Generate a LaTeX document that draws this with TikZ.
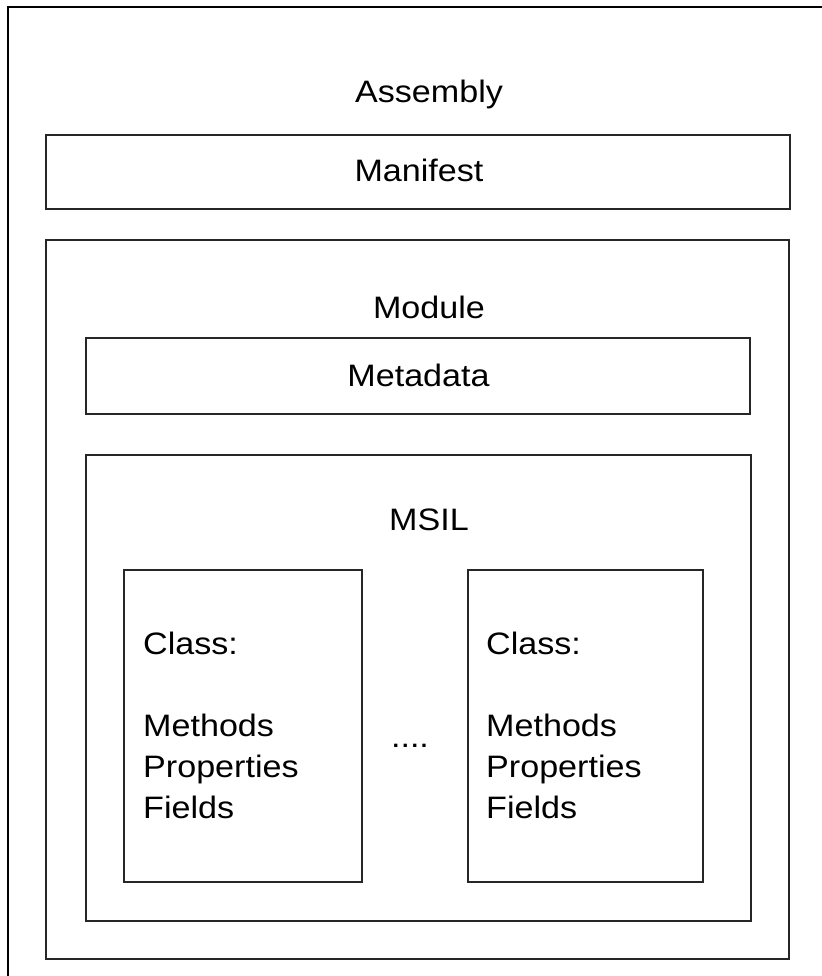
\documentclass[tikz,border=0pt]{standalone}
\usepackage{fontspec}
\setmainfont{Liberation Sans}[FakeStretch=1.1]
\begin{document}
\begin{tikzpicture}[x=1pt,y=-1pt,
  box/.style={draw=black!85, line width=1.6pt, rectangle, inner sep=0pt},
  lbl/.style={font=\fontsize{31}{41}\selectfont, inner sep=0pt, anchor=base},
  cls/.style={font=\fontsize{31}{41}\selectfont, inner sep=0pt, anchor=north west, align=left}]
\useasboundingbox (0,0) rectangle (821,976);
\fill[white] (0,0) rectangle (821,976);
% outer assembly frame (right and bottom edges lie outside the picture)
\coordinate (oa) at (8,990);
\coordinate (ob) at (8,7);
\coordinate (oc) at (835,7);
\draw[line width=2.6pt, black, line join=miter] (oa) -- (ob) -- (oc);
\node[lbl] (assembly) at (429,103) {Assembly};
% manifest
\node[box, minimum width=744pt, minimum height=74pt] (manifest) at (418,172) {};
\node[lbl] (manifesttxt) at (419,182) {Manifest};
% module
\node[box, minimum width=743pt, minimum height=719pt] (module) at (417.5,599.5) {};
\node[lbl] (moduletxt) at (429,318) {Module};
% metadata
\node[box, minimum width=664pt, minimum height=76pt] (metadata) at (418,376) {};
\node[lbl] (metadatatxt) at (418.5,386) {Metadata};
% msil
\node[box, minimum width=665pt, minimum height=466pt] (msil) at (418.5,688) {};
\node[lbl] (msiltxt) at (429,530) {MSIL};
% classes
\node[box, minimum width=238pt, minimum height=312pt] (class1) at (243,726) {};
\node[box, minimum width=235pt, minimum height=312pt] (class2) at (585.5,726) {};
\node[cls] (class1txt) at (143,632) {Class:\\ \\ Methods\\ Properties\\ Fields};
\node[cls] (class2txt) at (486,632) {Class:\\ \\ Methods\\ Properties\\ Fields};
\node[lbl] (dots) at (410,747) {....};
\end{tikzpicture}
\end{document}
